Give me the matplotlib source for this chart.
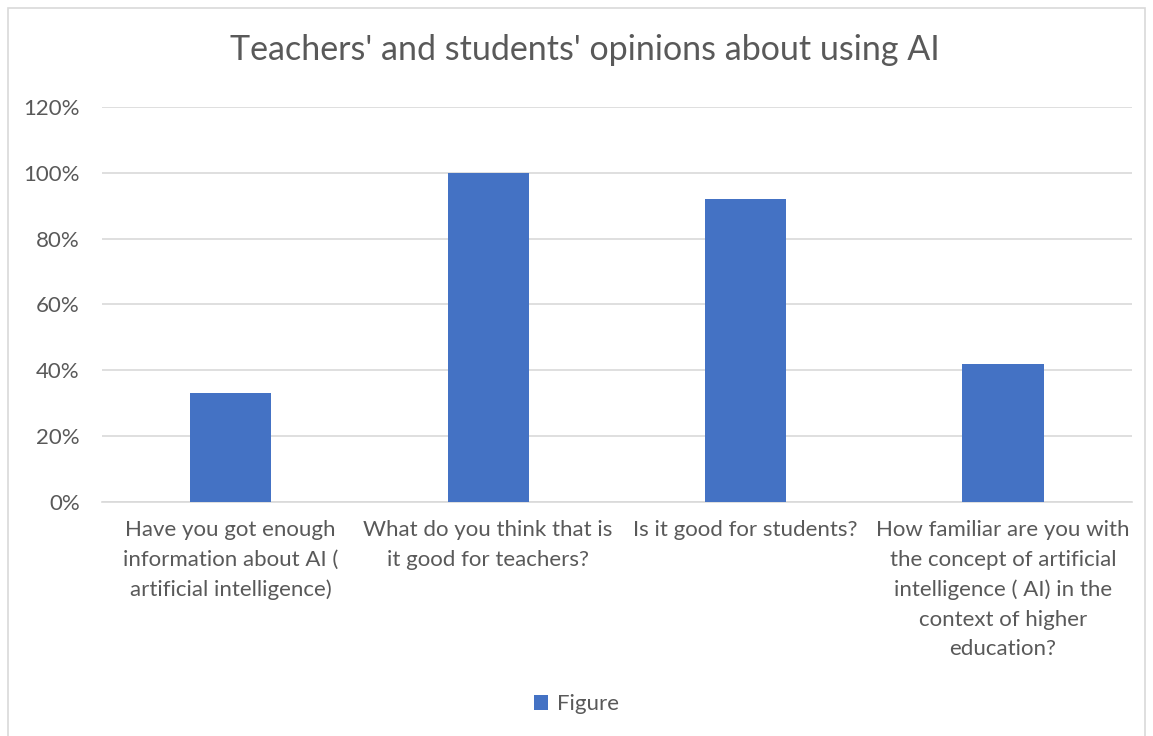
import matplotlib as mpl
mpl.use('agg')
import matplotlib.pyplot as plt
from matplotlib.patches import Rectangle
from matplotlib.ticker import PercentFormatter

# chart data
categories = ['Have you got enough\ninformation about AI (\nartificial intelligence)',
              'What do you think that is\nit good for teachers?',
              'Is it good for students?',
              'How familiar are you with\nthe concept of artificial\nintelligence ( AI) in the\ncontext of higher\neducation?']
values = [0.33, 1.00, 0.92, 0.42]
series_name = 'Figure'

plt.rcParams['font.family'] = ['Lato', 'DejaVu Sans']
grey = '#595959'

fig = plt.figure(figsize=(11.53, 7.36), dpi=100)
ax = fig.add_axes([0.0885, 0.318, 0.893, 0.5366])

x = range(len(categories))
ax.bar(x, values, width=0.315, color='#4472C4', label=series_name, zorder=3)

ax.set_xlim(-0.5, len(categories) - 0.5)
ax.set_ylim(0, 1.2)
ax.set_yticks([0, 0.2, 0.4, 0.6, 0.8, 1.0, 1.2])
ax.yaxis.set_major_formatter(PercentFormatter(1.0, decimals=0))
ax.grid(axis='y', color='#d9d9d9', linewidth=1.2, zorder=0)
ax.set_xticks(list(x))
ax.set_xticklabels(categories, fontsize=16, color=grey, linespacing=1.6, va='top')
ax.tick_params(axis='both', length=0, labelsize=16, labelcolor=grey)
ax.tick_params(axis='y', pad=16)
ax.tick_params(axis='x', pad=13)
for s in ['top', 'right', 'left']:
    ax.spines[s].set_visible(False)
ax.spines['bottom'].set_color('#d9d9d9')
ax.spines['bottom'].set_linewidth(1.2)

fig.text(0.507, 0.932, "Teachers' and students' opinions about using AI",
         ha='center', va='center', fontsize=24.5, color=grey)

fig.legend(loc='center', bbox_to_anchor=(0.5, 0.043), frameon=False,
           fontsize=16, labelcolor=grey, handlelength=0.6, handleheight=0.6,
           handletextpad=0.4)

# chart area border
fig.patches.append(Rectangle((8 / 1153, -0.01), 1137 / 1153, 1 - 8 / 736 + 0.01,
                             transform=fig.transFigure, fill=False,
                             edgecolor='#d9d9d9', linewidth=1.2))

fig.savefig('out.png', dpi=100)
